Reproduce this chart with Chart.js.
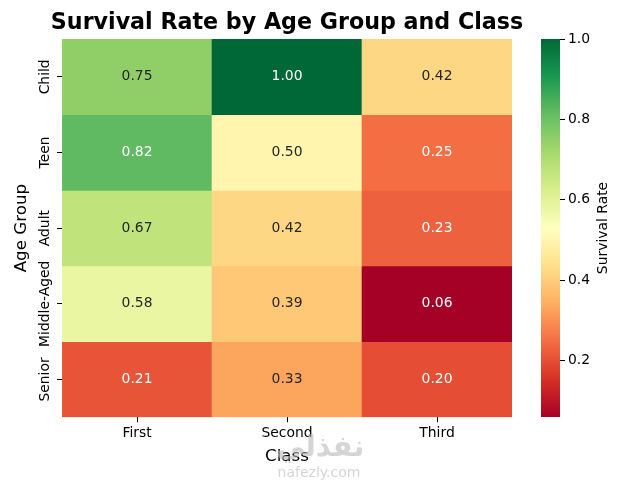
<!DOCTYPE html>
<html>
<head>
<meta charset="utf-8">
<script src="https://cdn.jsdelivr.net/npm/chart.js@4/dist/chart.umd.min.js"></script>
<style>
  html, body { margin: 0; padding: 0; background: #fff; }
  #wrap { position: relative; width: 640px; height: 480px; }
  #heat { position: absolute; left: 0; top: 0; }
  #cbar { position: absolute; left: 525px; top: 0; }
</style>
</head>
<body>
<div id="wrap">
  <canvas id="heat" width="574" height="480"></canvas>
  <canvas id="cbar" width="115" height="480"></canvas>
</div>
<script>
const ageGroups = ['Child', 'Teen', 'Adult', 'Middle-Aged', 'Senior'];
const classes = ['First', 'Second', 'Third'];
const firstClass = [0.75, 0.82, 0.67, 0.58, 0.21];
const secondClass = [1.00, 0.50, 0.42, 0.39, 0.33];
const thirdClass = [0.42, 0.25, 0.23, 0.06, 0.20];
const cbarTicks = [0.2, 0.4, 0.6, 0.8, 1.0];

const FONT = 'DejaVu Sans';
const columns = [firstClass, secondClass, thirdClass];
const allValues = columns.flat();
const vmin = Math.min(...allValues);
const vmax = Math.max(...allValues);

// RdYlGn stops (colorbrewer 11)
const rdylgn = ['#a50026', '#d73027', '#f46d43', '#fdae61', '#fee08b', '#ffffbf',
  '#d9ef8b', '#a6d96a', '#66bd63', '#1a9850', '#006837'];

const hexToRgb = h => [1, 3, 5].map(i => parseInt(h.substr(i, 2), 16));

function cmap(v) {
  let t = (v - vmin) / (vmax - vmin);
  t = Math.max(0, Math.min(1, t)) * (rdylgn.length - 1);
  const i = Math.min(Math.floor(t), rdylgn.length - 2);
  const f = t - i;
  const a = hexToRgb(rdylgn[i]), b = hexToRgb(rdylgn[i + 1]);
  return a.map((c, k) => Math.round(c + (b[k] - c) * f));
}

const rgbStr = c => `rgb(${c[0]},${c[1]},${c[2]})`;

// same rule as seaborn's annotation colour
function textColor(c) {
  const lin = c.map(x => {
    x = x / 255;
    return x <= 0.03928 ? x / 12.92 : Math.pow((x + 0.055) / 1.055, 2.4);
  });
  const lum = lin[0] * 0.2126 + lin[1] * 0.7152 + lin[2] * 0.0722;
  return lum > 0.408 ? '#262626' : '#ffffff';
}

const datasets = ageGroups.map((g, r) => ({
  label: g,
  data: classes.map(() => [r, r + 1]),
  values: columns.map(col => col[r]),
  backgroundColor: columns.map(col => rgbStr(cmap(col[r]))),
  borderWidth: 0,
  grouped: false,
  barPercentage: 1,
  categoryPercentage: 1
}));

// cell numbers, title, rotated row labels, watermark
const heatExtras = {
  id: 'heatExtras',
  afterDatasetsDraw(chart) {
    const ctx = chart.ctx;
    ctx.save();
    ctx.font = `13.9px "${FONT}"`;
    ctx.textAlign = 'center';
    ctx.textBaseline = 'middle';
    chart.data.datasets.forEach((ds, r) => {
      chart.getDatasetMeta(r).data.forEach((bar, i) => {
        const v = ds.values[i];
        ctx.fillStyle = textColor(cmap(v));
        const p = bar.getCenterPoint();
        ctx.fillText(v.toFixed(2), p.x, p.y);
      });
    });
    ctx.restore();
  },
  afterDraw(chart) {
    const ctx = chart.ctx;
    const area = chart.chartArea;
    const y = chart.scales.y;
    ctx.save();
    ctx.textAlign = 'center';
    ctx.textBaseline = 'middle';
    ctx.fillStyle = '#000';
    ctx.font = `bold 22.2px "${FONT}"`;
    ctx.fillText('Survival Rate by Age Group and Class', (area.left + area.right) / 2, 23);
    ctx.font = `13.9px "${FONT}"`;
    ageGroups.forEach((g, i) => {
      ctx.save();
      ctx.translate(area.left - 17, y.getPixelForValue(i + 0.5));
      ctx.rotate(-Math.PI / 2);
      ctx.fillText(g, 0, 0);
      ctx.restore();
    });
    // faint watermark
    ctx.fillStyle = 'rgba(185,185,185,0.6)';
    ctx.font = `bold 29px "${FONT}"`;
    ctx.fillText('نفذلي', 320, 448);
    ctx.font = `14px "${FONT}"`;
    ctx.fillText('nafezly.com', 319, 473);
    ctx.restore();
  }
};

new Chart(document.getElementById('heat'), {
  type: 'bar',
  data: { labels: classes, datasets },
  options: {
    responsive: false,
    animation: false,
    layout: { padding: { left: 8, right: 62, top: 39, bottom: 7 } },
    plugins: {
      legend: { display: false },
      tooltip: { enabled: false },
      title: { display: false }
    },
    scales: {
      x: {
        type: 'category',
        grid: { display: true, drawOnChartArea: false, drawTicks: true, tickLength: 5, color: '#000', offset: false },
        border: { display: false },
        ticks: { color: '#000', font: { family: FONT, size: 13.9 }, padding: 3 },
        title: { display: true, text: 'Class', color: '#000', font: { family: FONT, size: 16.7 }, padding: { top: 2, bottom: 6 } }
      },
      y: {
        type: 'linear',
        min: 0,
        max: ageGroups.length,
        reverse: true,
        afterBuildTicks: s => { s.ticks = ageGroups.map((g, i) => ({ value: i + 0.5 })); },
        grid: { display: true, drawOnChartArea: false, drawTicks: true, tickLength: 5, color: '#000' },
        border: { display: false },
        ticks: { display: false },
        title: { display: true, text: 'Age Group', color: '#000', font: { family: FONT, size: 16.7 }, padding: { top: 4, bottom: 25 } }
      }
    }
  },
  plugins: [heatExtras]
});

// colour bar
const cbarLabel = {
  id: 'cbarLabel',
  afterDraw(chart) {
    const ctx = chart.ctx;
    const a = chart.chartArea;
    ctx.save();
    ctx.font = `13.9px "${FONT}"`;
    ctx.fillStyle = '#000';
    ctx.textAlign = 'center';
    ctx.textBaseline = 'middle';
    ctx.translate(78, (a.top + a.bottom) / 2);
    ctx.rotate(-Math.PI / 2);
    ctx.fillText('Survival Rate', 0, 0);
    ctx.restore();
  }
};

new Chart(document.getElementById('cbar'), {
  type: 'bar',
  data: {
    labels: [''],
    datasets: [{
      data: [[vmin, vmax]],
      borderWidth: 0,
      barPercentage: 1,
      categoryPercentage: 1,
      backgroundColor: (c) => {
        const area = c.chart.chartArea;
        if (!area) return '#ccc';
        const g = c.chart.ctx.createLinearGradient(0, area.bottom, 0, area.top);
        rdylgn.forEach((col, i) => g.addColorStop(i / (rdylgn.length - 1), col));
        return g;
      }
    }]
  },
  options: {
    responsive: false,
    animation: false,
    layout: { padding: { left: 16, right: 10, top: 39, bottom: 63 } },
    plugins: { legend: { display: false }, tooltip: { enabled: false } },
    scales: {
      x: { display: false },
      y: {
        position: 'right',
        min: vmin,
        max: vmax,
        afterBuildTicks: s => { s.ticks = cbarTicks.map(v => ({ value: v })); },
        afterFit: s => { s.width = 70; },
        grid: { display: true, drawOnChartArea: false, drawTicks: true, tickLength: 5, color: '#000' },
        border: { display: false },
        ticks: { color: '#000', font: { family: FONT, size: 13.9 }, padding: 3, callback: v => v.toFixed(1) }
      }
    }
  },
  plugins: [cbarLabel]
});
</script>
</body>
</html>
